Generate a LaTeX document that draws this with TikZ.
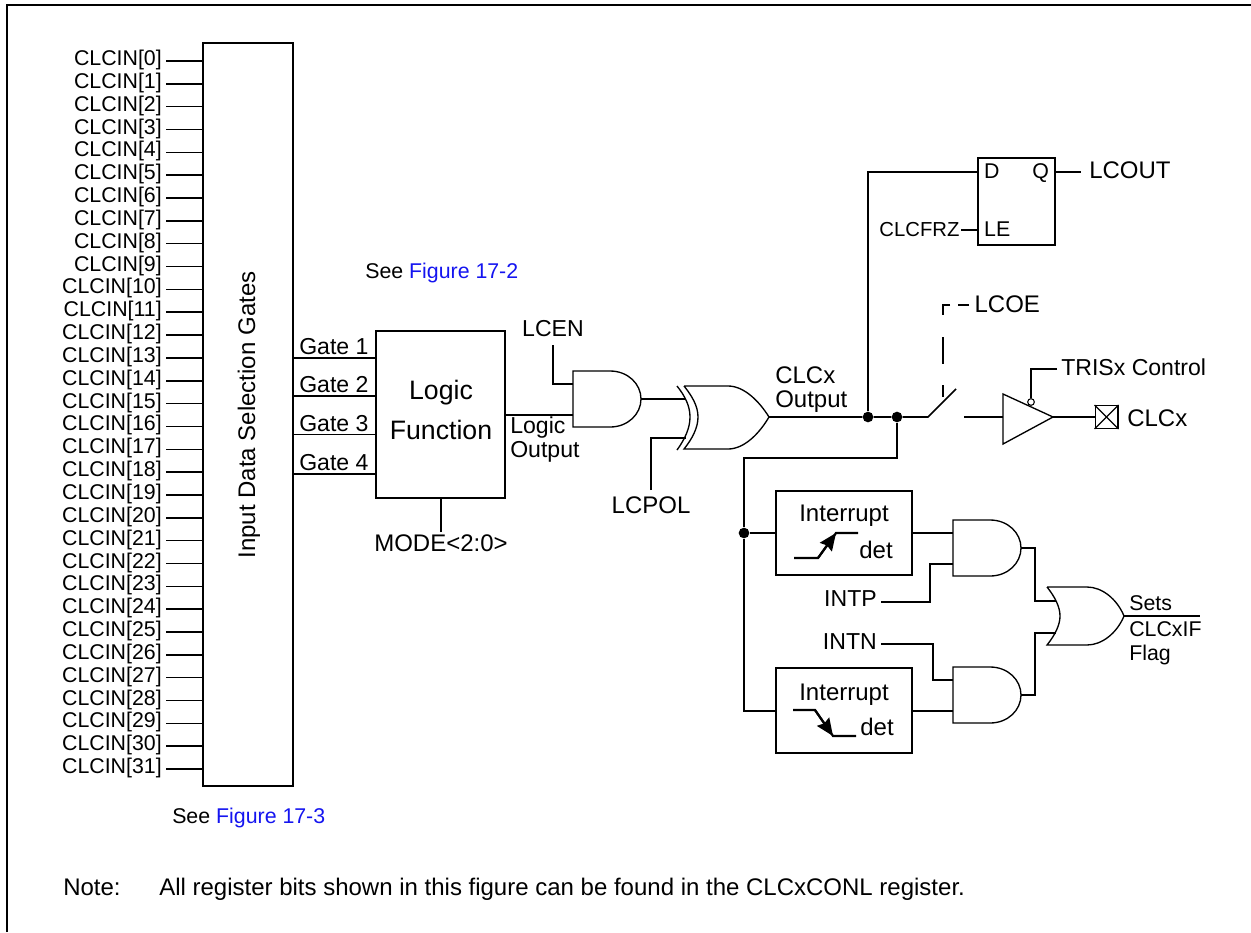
\documentclass[tikz,border=0pt]{standalone}
\usepackage{fontspec}
\setmainfont{Liberation Sans}
\usetikzlibrary{arrows.meta,fit}
\definecolor{figlink}{RGB}{20,20,240}

\begin{document}
\begin{tikzpicture}[
  x=0.75pt, y=-0.75pt, >={Stealth[]},
  wire/.style={line width=1.15pt},
  gateln/.style={line width=1pt},
  blk/.style={draw, line width=1.15pt, inner sep=0pt},
  lab/.style={font=\fontsize{16pt}{18pt}\selectfont, inner sep=0pt},
  lbl/.style={lab, font=\fontsize{17.3pt}{18pt}\selectfont},
  lbx/.style={lab, font=\fontsize{18pt}{18pt}\selectfont},
  big/.style={lab, font=\fontsize{20pt}{30pt}\selectfont},
  plab/.style={lab, inner sep=3pt, text height=11.3pt, text depth=4.5pt},
  plbl/.style={plab, font=\fontsize{17.3pt}{18pt}\selectfont},
  plbx/.style={plab, font=\fontsize{18pt}{18pt}\selectfont},
  jdot/.style={circle, fill, inner sep=0pt, minimum size=8pt},
  edgeln/.style={line width=1.6pt},
  edgearr/.style={line width=1.6pt, -{Stealth[length=13pt,width=11pt,inset=1.5pt]}},
  andg/.pic={
    \draw[gateln] (0,0) -- (37,0) .. controls (55,0) and (68,13) .. (68,28) .. controls (68,43) and (55,56) .. (37,56) -- (0,56) -- cycle;
    \coordinate (-ia) at (0,13);
    \coordinate (-ib) at (0,44);
    \coordinate (-out) at (68,28);},
  xorg/.pic={
    \draw[gateln] (0,0) -- (44,0) .. controls (60,0) and (75,15) .. (85,31) .. controls (75,48) and (60,63) .. (44,63) -- (0,63) .. controls (8,53) and (14,42) .. (14,31) .. controls (14,20) and (8,10) .. (0,0);
    \draw[gateln] (-7,0) .. controls (1,10) and (6,20) .. (6,31) .. controls (6,42) and (1,53) .. (-7,64);
    \coordinate (-ia) at (2,13);
    \coordinate (-ib) at (2,52);
    \coordinate (-out) at (85,31);},
  org/.pic={
    \draw[gateln] (0,0) -- (40,0) .. controls (55,0) and (70,12) .. (77,29) .. controls (70,46) and (55,58) .. (40,58) -- (0,58) .. controls (8,48) and (13,38) .. (13,29) .. controls (13,20) and (8,10) .. (0,0);
    \coordinate (-ia) at (9,14);
    \coordinate (-ib) at (9,46);
    \coordinate (-out) at (77,29);},
  bufg/.pic={
    \draw[gateln] (0,-23) -- (50,0) -- (0,27) -- cycle;
    \coordinate (-in) at (0,0);
    \coordinate (-out) at (50,0);}]
\useasboundingbox (0,0) rectangle (1251,932);
% frame
\coordinate (fra) at (7,932);
\coordinate (frb) at (7,5);
\coordinate (frc) at (1251,5);
\draw[line width=1.2pt] (fra) -- (frb) -- (frc);
% input selection
\node[blk, fit={(203,43) (293,786)}] (gates) {};
\node[lbx, rotate=90] (gatestxt) at (249,415) {Input Data Selection Gates};
\foreach \i in {0,...,31}{
  \pgfmathsetmacro\yy{61+\i*22.84}
  \node[plab, anchor=east] (cin\i) at (166,\yy) {CLCIN[\i]};
  \draw[wire] (cin\i) -- (cin\i -| gates.west);
}
\node[lab, anchor=base west] (see3) at (172,823) {See \textcolor{figlink}{Figure 17-3}};
\node[lab, anchor=base west] (see2) at (365,278) {See \textcolor{figlink}{Figure 17-2}};
\node[lbx, anchor=base west] (noteh) at (63,895) {Note:};
\node[lbx, anchor=base west] (notet) at (159,895) {All register bits shown in this figure can be found in the CLCxCONL register.};
% logic function
\node[blk, fit={(376,331) (505,498)}] (logic) {};
\node[big, align=center] (logtxt) at (441,410) {Logic\\Function};
\foreach \n/\yy in {1/358,2/396,3/434.5,4/474}{
  \coordinate (gt\n) at (293,\yy);
  \draw[wire] (gt\n) -- (gt\n -| logic.west);
  \node[lbl, anchor=south west] (gl\n) at (299,\yy-3) {Gate \n};
}
\node[plbx, anchor=north] (mode) at (441,532) {MODE<2:0>};
\draw[wire] (mode.north) -- (mode.north |- logic.south);
% gates
\pic (ga) at (573,371) {andg};
\pic (gx) at (684,386) {xorg};
\node[plbl, anchor=south, text depth=3pt] (lcen) at (553,345) {LCEN};
\node[plbx, anchor=north, text height=14.3pt] (lcpol) at (651,490) {LCPOL};
\draw[wire] (lcen.south) |- (ga-ia);
\draw[wire] (ga-ib -| logic.east) -- (ga-ib);
\node[lbl, anchor=north west, align=left] (logout) at (510,417) {Logic\\Output};
\draw[wire] (ga-out) -- (gx-ia);
\draw[wire] (lcpol.north) |- (gx-ib);
\node[lbx, anchor=south west, align=left] (clcout) at (775,413) {CLCx\\Output};
% output path
\node[jdot] (dota) at (868,417) {};
\node[jdot] (dotb) at (897,417) {};
\coordinate (swa) at (928,417);
\coordinate (swb) at (956,389);
\coordinate (swc) at (964,417);
\draw[wire] (gx-out) -- (dota) -- (dotb) -- (swa) -- (swb);
\pic (bf) at (1003,417) {bufg};
\draw[wire] (swc) -- (bf-in);
% latch
\node[blk, fit={(978,158) (1055,245)}] (latch) {};
\node[plab, anchor=west, inner xsep=5pt, text depth=1pt] (ld) at (latch.west |- 0,172) {D};
\node[plab, anchor=east, inner xsep=5pt, text depth=1pt] (lq) at (latch.east |- 0,172) {Q};
\node[plab, anchor=west, inner xsep=5pt, text depth=1pt] (le) at (latch.west |- 0,230) {LE};
\node[plbx, anchor=west, inner xsep=6pt, text depth=1pt] (lcout) at (1081,172) {LCOUT};
\node[plab, anchor=east, inner xsep=1pt, text depth=1.5pt, font=\fontsize{15.2pt}{18pt}\selectfont] (frz) at (961,230) {CLCFRZ};
\draw[wire] (dota) |- (ld.west);
\draw[wire] (lq.east) -- (lcout.west);
\draw[wire] (frz.east) -- (le.west);
% switch enable and tri state
\node[plbx, anchor=west, inner xsep=4pt, text depth=0pt] (lcoe) at (969,305) {LCOE};
\coordinate (oea) at (943,305);
\coordinate (oeb) at (943,397);
\draw[wire, dash pattern=on 8.25pt off 6pt on 12.75pt off 16.5pt on 20.25pt off 15.75pt on 9pt off 80pt] (lcoe.west) -- (oea) -- (oeb);
\node[circle, draw, fill=white, line width=0.8pt, inner sep=0pt, minimum size=5pt] (oen) at (1031,402) {};
\node[plbl, anchor=west, text depth=1.5pt] (tris) at (1057,369) {TRISx Control};
\draw[wire] (tris.west) -| (oen.north);
\node[draw, line width=1pt, inner sep=0pt, minimum size=17pt] (pad) at (1106.5,417) {};
\draw[gateln] (pad.north west) -- (pad.south east);
\draw[gateln] (pad.north east) -- (pad.south west);
\draw[wire] (bf-out) -- (pad.west);
\node[plbx, anchor=west] (clcx) at (1123,422) {CLCx};
% interrupts
\coordinate (busa) at (897,458);
\coordinate (busb) at (744,458);
\node[blk, fit={(776,491) (912,575)}] (detp) {};
\node[blk, fit={(776,668) (912,753)}] (detn) {};
\node[lbx] (txtp) at (844,516) {Interrupt};
\node[lbx] (txtn) at (844,695) {Interrupt};
\node[lbx] (detpt) at (876,550) {det};
\node[lbx] (detnt) at (877,727) {det};
\coordinate (upa) at (794,558);
\coordinate (upb) at (818,558);
\coordinate (upc) at (836,533);
\coordinate (upd) at (858,533);
\draw[edgeln] (upa) -- (upb) -- (upc) -- (upd);
\draw[edgearr] (upb) -- (upc);
\coordinate (dna) at (793,710);
\coordinate (dnb) at (815,710);
\coordinate (dnc) at (833,736);
\coordinate (dnd) at (856,736);
\draw[edgeln] (dna) -- (dnb) -- (dnc) -- (dnd);
\draw[edgearr] (dnb) -- (dnc);
\pic (gp) at (953,520) {andg};
\pic (gn) at (953,667) {andg};
\pic (go) at (1047,587) {org};
\node[jdot] (dotc) at (744,533) {};
\draw[wire] (dotb) -- (busa) -- (busb) -- (dotc) -- (busb |- gn-ib) -- (gn-ib -| detn.west);
\draw[wire] (dotc) -- (gp-ia -| detp.west);
\draw[wire] (gp-ia -| detp.east) -- (gp-ia);
\draw[wire] (gn-ib -| detn.east) -- (gn-ib);
\node[plbl, anchor=east] (intp) at (881,602) {INTP};
\node[plbl, anchor=east, text depth=2.5pt] (intn) at (881,644) {INTN};
\coordinate (ipb) at (930,602);
\coordinate (inb) at (933,644);
\draw[wire] (intp.east) -- (ipb) |- (gp-ib);
\draw[wire] (intn.east) -- (inb) |- (gn-ia);
\coordinate (orba) at (1035,601);
\coordinate (orbb) at (1035,633);
\draw[wire] (gp-out) -| (orba) -- (go-ia);
\draw[wire] (gn-out) -| (orbb) -- (go-ib);
\coordinate (setsr) at (1200,616);
\draw[wire] (go-out) -- (setsr);
\node[lab, anchor=south west] (sets) at (1129,611) {Sets};
\node[lab, anchor=north west, align=left] (flag) at (1129,621) {CLCxIF\\Flag};
\end{tikzpicture}
\end{document}
